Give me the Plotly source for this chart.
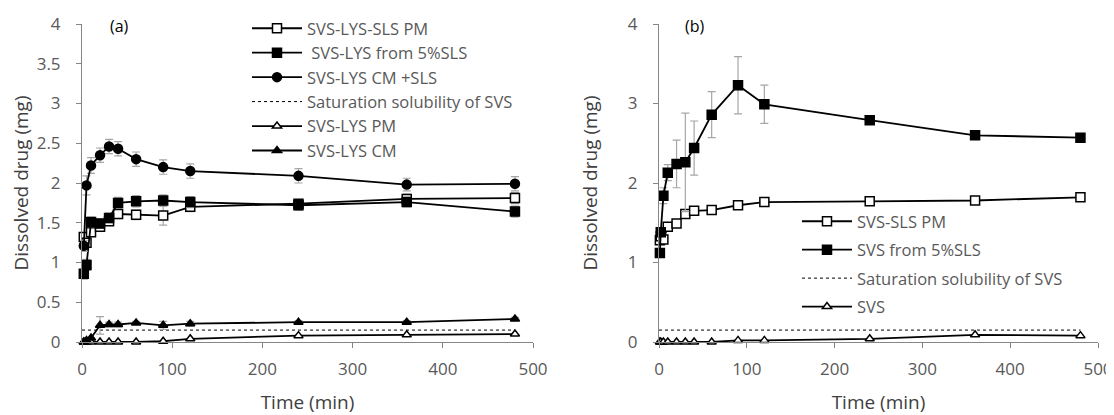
import plotly.graph_objects as go

# ---- data ----
time_a = [2, 5, 10, 20, 30, 40, 60, 90, 120, 240, 360, 480]
a_lys_sls_pm = [1.32, 1.25, 1.38, 1.45, 1.52, 1.61, 1.60, 1.59, 1.70, 1.74, 1.80, 1.81]
a_lys_sls_pm_err = [0.05, 0.05, 0.05, 0.05, 0.05, 0.06, 0.06, 0.12, 0.06, 0.05, 0.06, 0.07]
a_lys_5sls = [0.86, 0.97, 1.51, 1.49, 1.56, 1.75, 1.77, 1.78, 1.76, 1.72, 1.76, 1.64]
a_lys_5sls_err = [0.07, 0.07, 0.06, 0.06, 0.06, 0.07, 0.07, 0.07, 0.07, 0.06, 0.06, 0.07]
a_lys_cm_sls = [1.21, 1.97, 2.22, 2.35, 2.46, 2.43, 2.30, 2.20, 2.15, 2.09, 1.98, 1.99]
a_lys_cm_sls_err = [0.07, 0.12, 0.10, 0.09, 0.09, 0.09, 0.09, 0.09, 0.09, 0.09, 0.08, 0.09]
a_lys_pm = [0, 0, 0, 0, 0, 0, 0, 0.01, 0.04, 0.08, 0.09, 0.10]
a_lys_cm = [0, 0.02, 0.05, 0.21, 0.22, 0.22, 0.24, 0.21, 0.23, 0.25, 0.25, 0.29]
a_lys_cm_err = [0, 0, 0, 0.11, 0.03, 0.03, 0.02, 0.05, 0.03, 0.02, 0.02, 0.02]

time_b = [1, 2, 5, 10, 20, 30, 40, 60, 90, 120, 240, 360, 480]
b_sls_pm = [1.28, 1.33, 1.29, 1.45, 1.49, 1.61, 1.65, 1.66, 1.72, 1.76, 1.77, 1.78, 1.82]
b_5sls = [1.12, 1.38, 1.84, 2.13, 2.24, 2.26, 2.44, 2.86, 3.23, 2.99, 2.79, 2.60, 2.57]
b_5sls_err = [0.03, 0.05, 0.10, 0.10, 0.30, 0.62, 0.34, 0.29, 0.36, 0.24, 0.04, 0.03, 0.03]
b_svs = [0, 0, 0, 0, 0, 0, 0, 0, 0.02, 0.02, 0.04, 0.09, 0.08]

sat_time = [0, 480]
sat_sol = [0.15, 0.15]

# the page body has an 8px margin, so the figure is drawn 8px in from the window
W, H = 1106, 407
AX = '#868686'
TXT = '#595959'
ERR = '#a6a6a6'


def xp(px):
    return (px - 8) / W


def yp(py):
    return 1 - (py - 8) / H


def series(x, y, name, symbol, filled, xa, ya, legend, err=None, group=None):
    return go.Scatter(
        x=x, y=y, name=name, mode='lines+markers', xaxis=xa, yaxis=ya, legend=legend,
        legendgroup=group, cliponaxis=False,
        line=dict(color='black', width=1.8),
        marker=dict(symbol=symbol, size=9 if 'triangle' not in symbol else 8,
                    color='black' if filled else 'white',
                    line=dict(color='black', width=1.5)),
        error_y=dict(type='data', array=err, color=ERR, thickness=1.2, width=4,
                     visible=err is not None),
    )


def sat(x, y, xa, ya, legend, group=None):
    return go.Scatter(x=x, y=y, name='Saturation solubility of SVS', mode='lines',
                      xaxis=xa, yaxis=ya, legend=legend, legendgroup=group,
                      line=dict(color='black', width=1, dash='dot'))


fig = go.Figure()
# panel (a)
fig.add_trace(series(time_a, a_lys_sls_pm, 'SVS-LYS-SLS PM', 'square', False, 'x', 'y', 'legend', a_lys_sls_pm_err))
fig.add_trace(series(time_a, a_lys_5sls, ' SVS-LYS from 5%SLS', 'square', True, 'x', 'y', 'legend', a_lys_5sls_err))
fig.add_trace(series(time_a, a_lys_cm_sls, 'SVS-LYS CM +SLS', 'circle', True, 'x', 'y', 'legend', a_lys_cm_sls_err))
fig.add_trace(sat(sat_time, sat_sol, 'x', 'y', 'legend'))
fig.add_trace(series(time_a, a_lys_pm, 'SVS-LYS PM', 'triangle-up', False, 'x', 'y', 'legend'))
fig.add_trace(series(time_a, a_lys_cm, 'SVS-LYS CM', 'triangle-up', True, 'x', 'y', 'legend', a_lys_cm_err))

# panel (b)
fig.add_trace(series(time_b, b_sls_pm, 'SVS-SLS PM', 'square', False, 'x2', 'y2', 'legend2', group='b1'))
fig.add_trace(series(time_b, b_5sls, 'SVS from 5%SLS', 'square', True, 'x2', 'y2', 'legend2', b_5sls_err, group='b2'))
fig.add_trace(sat(sat_time, sat_sol, 'x2', 'y2', 'legend2', group='b3'))
fig.add_trace(series(time_b, b_svs, 'SVS', 'triangle-up', False, 'x2', 'y2', 'legend2', group='b4'))

axis_common = dict(showline=True, linecolor=AX, linewidth=1, ticks='outside', ticklen=5,
                   tickcolor=AX, showgrid=False, zeroline=False, automargin=False,
                   tickfont=dict(size=17, color=TXT))
title_font = dict(size=19, color='#404040')

fig.update_layout(
    width=W, height=H,
    margin=dict(l=0, r=0, t=0, b=0, autoexpand=False),
    paper_bgcolor='white', plot_bgcolor='white',
    font=dict(family='Open Sans', color=TXT),
    xaxis=dict(domain=[xp(82), xp(533)], range=[0, 500], dtick=100, anchor='y',
               ticklabelstandoff=7,
               title=dict(text='Time (min)', font=title_font, standoff=22), **axis_common),
    yaxis=dict(domain=[yp(342), yp(24)], range=[0, 4], dtick=0.5, anchor='x',
               ticklabelstandoff=12,
               title=dict(text='Dissolved drug (mg)', font=title_font, standoff=5), **axis_common),
    xaxis2=dict(domain=[xp(659), xp(1098)], range=[0, 500], dtick=100, anchor='y2',
                ticklabelstandoff=7,
                title=dict(text='Time (min)', font=title_font, standoff=22), **axis_common),
    yaxis2=dict(domain=[yp(342), yp(24)], range=[0, 4], dtick=1, anchor='x2',
                ticklabelstandoff=12,
                title=dict(text='Dissolved drug (mg)', font=title_font, standoff=25), **axis_common),
    legend=dict(x=xp(247), y=yp(89.5), xanchor='left', yanchor='middle',
                bgcolor='rgba(0,0,0,0)', font=dict(size=16.5, color=TXT), itemwidth=50,
                traceorder='normal'),
    legend2=dict(x=xp(797), y=yp(264), xanchor='left', yanchor='middle',
                 bgcolor='rgba(0,0,0,0)', font=dict(size=16.5, color=TXT), itemwidth=50,
                 traceorder='grouped', tracegroupgap=4),
    annotations=[
        dict(text='(a)', x=xp(119), y=yp(26), xref='paper', yref='paper',
             xanchor='center', yanchor='middle',
             showarrow=False, font=dict(size=16, color='black')),
        dict(text='(b)', x=xp(695), y=yp(26), xref='paper', yref='paper',
             xanchor='center', yanchor='middle',
             showarrow=False, font=dict(size=16, color='black')),
    ],
)

fig.write_html('out.html')
